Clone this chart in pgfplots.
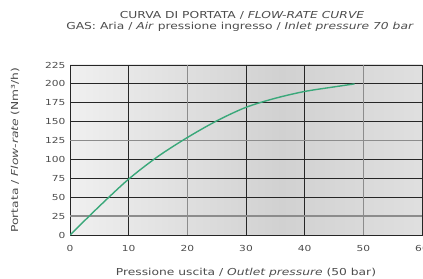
\documentclass[border=0pt]{standalone}
\usepackage{fontspec}
\setmainfont{DejaVu Sans}
\newfontfamily\wide[FakeStretch=1.28]{DejaVu Sans}
\usepackage{pgfplots}
\pgfplotsset{compat=1.18}
\definecolor{curve}{RGB}{58,168,122}
\pgfdeclarehorizontalshading{bgshade}{100bp}{color(0bp)=(white); color(25bp)=(black!6); color(55bp)=(black!18); color(80bp)=(black!11); color(100bp)=(black!4)}
\begin{document}
\begin{tikzpicture}
\begin{axis}[
  name=ax,
  scale only axis,
  width=352pt, height=170pt,
  xmin=0, xmax=60, ymin=0, ymax=225,
  xtick={0,10,30,40,60},
  extra x ticks={20,50},
  extra x tick style={grid style={black!45, line width=1.6pt}},
  ytick={0,50,75,100,150,175,200,225},
  extra y ticks={25,125},
  extra y tick style={grid style={black!45, line width=1.6pt}},
  grid=major,
  grid style={black!85, line width=0.9pt},
  axis line style={black!85, line width=0.9pt},
  tick style={draw=none},
  ticklabel style={font=\wide\fontsize{8.3}{10}\selectfont, text=black!70},
  /pgf/number format/assume math mode=true,
  yticklabel style={xshift=-1pt},
  xticklabel style={yshift=-7pt},
  axis background/.style={shading=bgshade},
]
\addplot[curve, line width=1.4pt, smooth] coordinates {
(0,0) (5,38) (10,74) (15,104) (20,129) (25,151) (30,169) (35,181) (40,190) (45,196) (48.5,200)
};
\end{axis}
\node[font=\wide\fontsize{9.6}{11}\selectfont, text=black!70] at ([yshift=50pt, xshift=-4pt]ax.north) {CURVA DI PORTATA / \textit{FLOW-RATE CURVE}};
\node[font=\wide\fontsize{9.6}{11}\selectfont, text=black!70] at ([yshift=38pt, xshift=-6pt]ax.north) {GAS: Aria / \textit{Air} pressione ingresso / \textit{Inlet pressure 70 bar}};
\node[font=\wide\fontsize{9.6}{11}\selectfont, text=black!70, rotate=90] at ([xshift=-55pt]ax.west) {Portata / \textit{Flow-rate} (Nm³/h)};
\node[font=\wide\fontsize{9.6}{11}\selectfont, text=black!70] at ([yshift=-38pt]ax.south) {Pressione uscita / \textit{Outlet pressure} (50 bar)};
\pgfresetboundingbox
\path[use as bounding box] ([shift={(-70pt,-43pt)}]ax.south west) rectangle ([shift={(1pt,65pt)}]ax.north east);
\end{tikzpicture}
\end{document}
